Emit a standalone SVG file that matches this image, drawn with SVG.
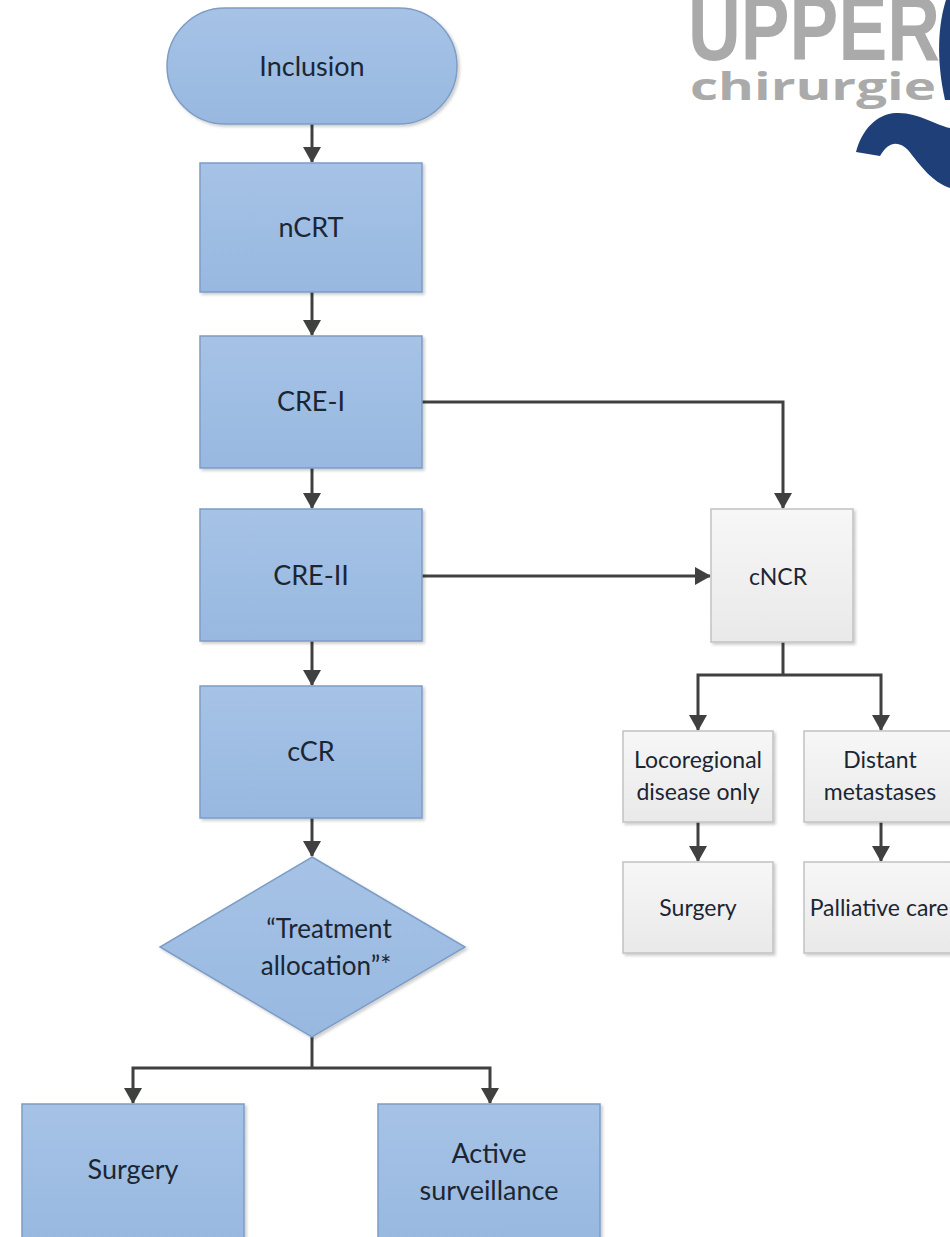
<svg xmlns="http://www.w3.org/2000/svg" width="950" height="1237" viewBox="0 0 950 1237">
<defs>
<linearGradient id="gb" x1="0" y1="0" x2="0" y2="1"><stop offset="0" stop-color="#a6c3e6"/><stop offset="1" stop-color="#98b8e0"/></linearGradient>
<linearGradient id="gg" x1="0" y1="0" x2="0" y2="1"><stop offset="0" stop-color="#f7f7f7"/><stop offset="1" stop-color="#e9e9e9"/></linearGradient>
<filter id="sh" x="-10%" y="-10%" width="130%" height="130%"><feDropShadow dx="2" dy="2" stdDeviation="1.5" flood-color="#000" flood-opacity="0.2"/></filter>
<marker id="ah" viewBox="0 0 16 18" refX="15" refY="9" markerWidth="16" markerHeight="18" markerUnits="userSpaceOnUse" orient="auto"><path d="M0,0 L16,9 L0,18 Z" fill="#404040"/></marker>
</defs>
<style>
.b{fill:url(#gb);stroke:#7d9dc6;stroke-width:1.5;filter:url(#sh)}
.g{fill:url(#gg);stroke:#c2c2c2;stroke-width:1.5;filter:url(#sh)}
.t{font-family:Lato,"Open Sans",sans-serif;fill:#1c2633;text-anchor:middle}
.L{font-size:27px}
.D{font-size:26px}
.S{font-size:23px}
.c{fill:none;stroke:#404040;stroke-width:3}
</style>
<rect width="950" height="1237" fill="#fff"/>
<g id="logo">
<text x="688" y="60" font-family="'Liberation Sans Narrow','Liberation Sans',sans-serif" font-weight="bold" font-size="92" fill="#aaaaaa" textLength="252" lengthAdjust="spacingAndGlyphs">UPPER</text>
<text x="690" y="100" font-family="'Open Sans','Liberation Sans',sans-serif" font-weight="bold" font-size="38" fill="#aaaaaa" textLength="246" lengthAdjust="spacingAndGlyphs">chirurgie</text>
<path d="M946,0 C938,25 936,60 945,100 L950,100 L950,0 Z" fill="#1e3f78"/>
<path d="M856,152 C862,130 876,114 896,113 C918,112 935,125 950,128 L950,188 C932,182 920,165 908,150 C898,140 888,142 880,156 Z" fill="#1e3f78"/>
</g>
<g id="connectors">
<line class="c" x1="312" y1="124" x2="312" y2="162" marker-end="url(#ah)"/>
<line class="c" x1="312" y1="292" x2="312" y2="335" marker-end="url(#ah)"/>
<line class="c" x1="312" y1="468" x2="312" y2="508" marker-end="url(#ah)"/>
<line class="c" x1="312" y1="641" x2="312" y2="685" marker-end="url(#ah)"/>
<line class="c" x1="312" y1="818" x2="312" y2="856" marker-end="url(#ah)"/>
<polyline class="c" points="422,402 783,402 783,508" marker-end="url(#ah)"/>
<line class="c" x1="422" y1="576" x2="710" y2="576" marker-end="url(#ah)"/>
<line class="c" x1="783" y1="642" x2="783" y2="675"/>
<polyline class="c" points="783,675 698,675 698,730" marker-end="url(#ah)"/>
<polyline class="c" points="783,675 881,675 881,730" marker-end="url(#ah)"/>
<line class="c" x1="698" y1="822" x2="698" y2="861" marker-end="url(#ah)"/>
<line class="c" x1="881" y1="822" x2="881" y2="861" marker-end="url(#ah)"/>
<line class="c" x1="312" y1="1037" x2="312" y2="1068"/>
<polyline class="c" points="312,1068 133,1068 133,1103" marker-end="url(#ah)"/>
<polyline class="c" points="312,1068 490,1068 490,1103" marker-end="url(#ah)"/>
</g>
<g id="inclusion"><rect class="b" x="167" y="8" width="290" height="116" rx="58"/><text class="t L" x="312" y="76">Inclusion</text></g>
<g id="ncrt"><rect class="b" x="200" y="163" width="222" height="129"/><text class="t L" x="311" y="237">nCRT</text></g>
<g id="cre1"><rect class="b" x="200" y="336" width="222" height="132"/><text class="t L" x="311" y="411">CRE-I</text></g>
<g id="cre2"><rect class="b" x="200" y="509" width="222" height="132"/><text class="t L" x="311" y="585">CRE-II</text></g>
<g id="ccr"><rect class="b" x="200" y="686" width="222" height="132"/><text class="t L" x="311" y="761">cCR</text></g>
<g id="allocation"><polygon class="b" points="312,857 465,947 312,1037 160,947"/><text class="t D" x="329" y="938">“Treatment</text><text class="t D" x="326" y="975">allocation”*</text></g>
<g id="surgery"><rect class="b" x="22" y="1104" width="222" height="140"/><text class="t L" x="133" y="1179">Surgery</text></g>
<g id="surveillance"><rect class="b" x="378" y="1104" width="222" height="140"/><text class="t L" x="489" y="1163">Active</text><text class="t L" x="489" y="1200">surveillance</text></g>
<g id="cncr"><rect class="g" x="711" y="509" width="142" height="133"/><text class="t S" x="778" y="585">cNCR</text></g>
<g id="locoregional"><rect class="g" x="623" y="731" width="150" height="91"/><text class="t S" x="698" y="768">Locoregional</text><text class="t S" x="698" y="800">disease only</text></g>
<g id="distant"><rect class="g" x="804" y="731" width="156" height="91"/><text class="t S" x="880" y="768">Distant</text><text class="t S" x="880" y="800">metastases</text></g>
<g id="surgery2"><rect class="g" x="623" y="862" width="150" height="91"/><text class="t S" x="698" y="916">Surgery</text></g>
<g id="palliative"><rect class="g" x="804" y="862" width="156" height="91"/><text class="t S" x="879" y="916">Palliative care</text></g>
</svg>
